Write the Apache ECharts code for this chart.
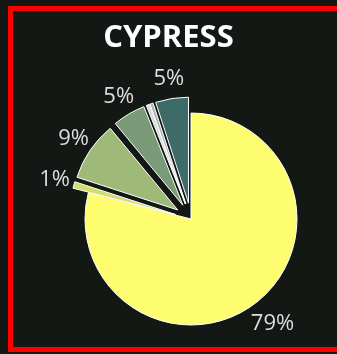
<!DOCTYPE html>
<html>
<head>
<meta charset="utf-8">
<script src="https://cdn.jsdelivr.net/npm/echarts@6/dist/echarts.min.js"></script>
<style>
  html, body { margin: 0; padding: 0; width: 337px; height: 354px; overflow: hidden;
    background: #141814; }
  #frame { position: absolute; left: 8px; top: 6px; width: 340px; height: 336px;
    border: 5px solid #ff0000; box-sizing: content-box; }
  #chart { position: absolute; left: 0; top: 0; width: 337px; height: 354px; }
</style>
</head>
<body>
<div id="frame"></div>
<div id="chart"></div>
<script>
// Share of each class (percent), drawn clockwise from 12 o'clock
const categories = ['Class A', 'Class B', 'Class C', 'Class D', 'Class E', 'Class F', 'Class G'];
const shares = [79, 1, 9, 5, 0.5, 0.5, 5];
const colors = ['#fdfd6f', '#d3dc6f', '#9fba78', '#7a9a78', '#d4dbd6', '#aab6b1', '#3e6a68'];
const titleText = 'CYPRESS';

const chart = echarts.init(document.getElementById('chart'), null, { renderer: 'canvas' });

// every slice except the largest is pulled out from the centre
const data = categories.map((name, i) => ({
  name: name,
  value: shares[i],
  selected: i > 0,
  itemStyle: { color: colors[i] },
  label: { show: shares[i] >= 1 },
  labelLine: { length: i > 0 ? 20 : 27 }
}));

chart.setOption({
  animation: false,
  backgroundColor: 'transparent',
  title: {
    text: titleText,
    left: 'center',
    top: 18,
    textStyle: { color: '#ffffff', fontFamily: 'Open Sans', fontWeight: 'bold', fontSize: 31 }
  },
  series: [{
    type: 'pie',
    center: [191, 219],
    radius: [0, 106],
    startAngle: 90,
    clockwise: true,
    selectedMode: 'multiple',
    selectedOffset: 16,
    avoidLabelOverlap: false,
    silent: true,
    itemStyle: { borderColor: '#ffffff', borderWidth: 1 },
    label: {
      position: 'outside',
      distanceToLabelLine: 0,
      color: '#dedede',
      fontFamily: 'Open Sans',
      fontSize: 22,
      formatter: (p) => p.value + '%'
    },
    labelLine: { show: false, length: 27, length2: 0 },
    labelLayout: { align: 'center', verticalAlign: 'middle' },
    emphasis: { disabled: true },
    data: data
  }]
});
</script>
</body>
</html>
